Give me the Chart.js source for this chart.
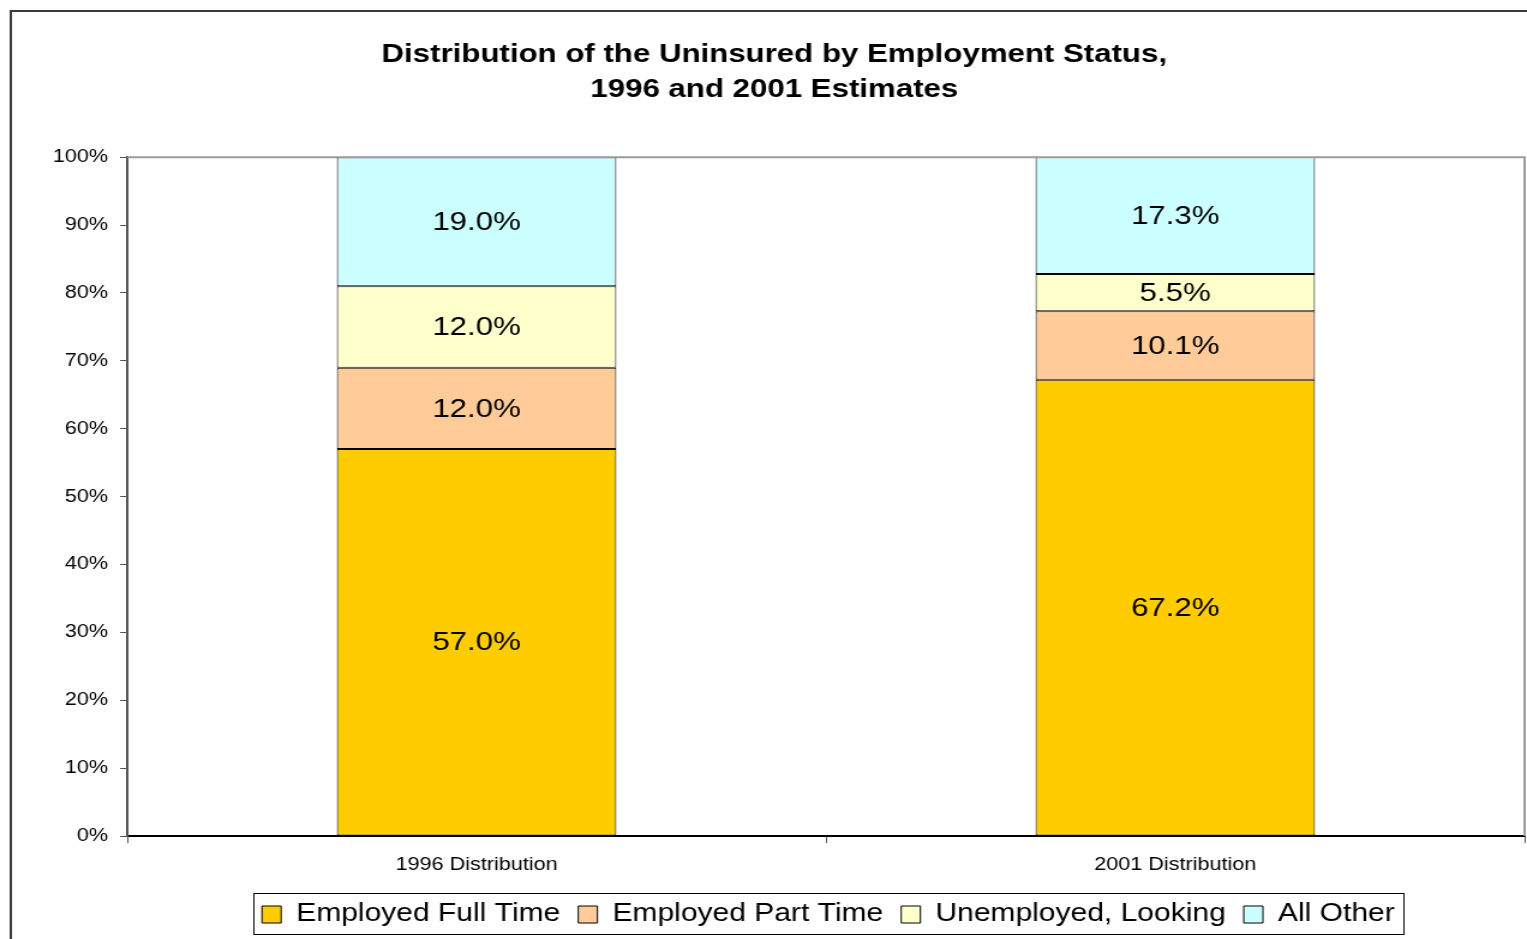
<!DOCTYPE html>
<html>
<head>
<title>Distribution of the Uninsured by Employment Status</title>
<style>
  body { margin: 0; background: #ffffff; }
  .chart-container { position: relative; width: 1527px; height: 939px; }
</style>
</head>
<body>
<div class="chart-container">
<!-- the original is stretched sideways by about 1.2, so the canvas is drawn narrower and scaled up -->
<canvas id="mycanvas" width="1272" height="939" style="width:1527px;height:939px;display:block"></canvas>
</div>

<script src="https://cdn.jsdelivr.net/npm/chart.js@4.4.1/dist/chart.umd.min.js"></script>
<script>
var categories = ["1996 Distribution", "2001 Distribution"];
var fullTime = [57.0, 67.2];
var partTime = [12.0, 10.1];
var unemployed = [12.0, 5.5];
var allOther = [19.0, 17.3];

var seriesNames = ["Employed Full Time", "Employed Part Time", "Unemployed, Looking", "All Other"];
var seriesColors = ["#FFCC00", "#FFCC99", "#FFFFCC", "#CCFFFF"];

var FONT = "'Liberation Sans', Arial, sans-serif";

// outer frame, plot frame (top/right) and legend box
var framePlugin = {
  id: 'framePlugin',
  afterLayout: function(chart) {
    // the legend sits right of centre in the original
    chart.legend.left += 45;
    chart.legend.right += 45;
  },
  beforeDraw: function(chart) {
    var ctx = chart.ctx;
    ctx.save();
    ctx.fillStyle = "#ffffff";
    ctx.fillRect(0, 0, chart.width, chart.height);
    ctx.strokeStyle = "#3a3a3a";
    ctx.lineWidth = 2;
    ctx.beginPath();
    ctx.moveTo(9, chart.height + 5);
    ctx.lineTo(9, 11);
    ctx.lineTo(chart.width + 5, 11);
    ctx.stroke();
    ctx.restore();
  },
  afterDraw: function(chart) {
    var ctx = chart.ctx, a = chart.chartArea;
    ctx.save();
    ctx.strokeStyle = "#9a9a9a";
    ctx.lineWidth = 2;
    ctx.beginPath();
    ctx.moveTo(a.left, a.top);
    ctx.lineTo(a.right, a.top);
    ctx.lineTo(a.right, a.bottom);
    ctx.stroke();

    var boxes = chart.legend.legendHitBoxes;
    if (boxes && boxes.length) {
      var l = boxes[0].left, r = 0, t = boxes[0].top, b = 0;
      boxes.forEach(function(h) {
        l = Math.min(l, h.left);
        r = Math.max(r, h.left + h.width);
        t = Math.min(t, h.top);
        b = Math.max(b, h.top + h.height);
      });
      ctx.strokeStyle = "#000000";
      ctx.lineWidth = 1;
      ctx.strokeRect(Math.round(l - 7) + 0.5, Math.round(t - 9) + 0.5, Math.round(r - l + 14), Math.round(b - t + 16));
    }
    ctx.restore();
  }
};

// percentage labels in the middle of each segment
var valueLabels = {
  id: 'valueLabels',
  afterDatasetsDraw: function(chart) {
    var ctx = chart.ctx;
    ctx.save();
    ctx.font = "26px " + FONT;
    ctx.fillStyle = "#000000";
    ctx.textAlign = "center";
    ctx.textBaseline = "middle";
    chart.data.datasets.forEach(function(ds, i) {
      var meta = chart.getDatasetMeta(i);
      meta.data.forEach(function(bar, j) {
        var p = bar.getProps(['x', 'y', 'base'], true);
        var top = Math.max(p.y, chart.chartArea.top);
        ctx.fillText(ds.data[j].toFixed(1) + "%", p.x, (top + p.base) / 2 + 1);
      });
    });
    ctx.restore();
  }
};

var datasets = [fullTime, partTime, unemployed, allOther].map(function(vals, i) {
  return {
    label: seriesNames[i],
    data: vals,
    backgroundColor: seriesColors[i],
    borderColor: "#000000",
    borderWidth: 1,
    borderSkipped: false,
    barPercentage: 0.4,
    categoryPercentage: 1.0
  };
});

var ctx = document.getElementById("mycanvas");

var chart = new Chart(ctx, {
  type: 'bar',
  data: { labels: categories, datasets: datasets },
  plugins: [framePlugin, valueLabels],
  options: {
    responsive: false,
    animation: false,
    devicePixelRatio: 1,
    layout: { padding: { left: 20, right: 2, top: 0, bottom: 2 } },
    plugins: {
      tooltip: { enabled: false },
      title: {
        display: true,
        text: ["Distribution of the Uninsured by Employment Status,", "1996 and 2001 Estimates"],
        color: "#000000",
        font: { family: FONT, size: 26, weight: 'bold', lineHeight: 1.35 },
        padding: { top: 37, bottom: 50 }
      },
      legend: {
        position: 'bottom',
        labels: {
          color: "#000000",
          font: { family: FONT, size: 25 },
          boxWidth: 16,
          boxHeight: 17,
          padding: 15
        }
      }
    },
    scales: {
      x: {
        stacked: true,
        grid: { drawOnChartArea: false, tickLength: 7, color: "#555555", offset: true },
        border: { color: "#000000", width: 2 },
        ticks: { color: "#000000", font: { family: FONT, size: 18 }, padding: 11 },
        afterFit: function(scale) { scale.height = 51; }
      },
      y: {
        stacked: true,
        min: 0,
        max: 100,
        grid: { drawOnChartArea: false, tickLength: 6, color: "#555555" },
        border: { color: "#555555", width: 2 },
        ticks: {
          stepSize: 10,
          color: "#000000",
          font: { family: FONT, size: 18 },
          padding: 10,
          callback: function(v) { return v + "%"; }
        },
        afterFit: function(scale) { scale.width = 86; }
      }
    }
  }
});
</script>
</body>
</html>
